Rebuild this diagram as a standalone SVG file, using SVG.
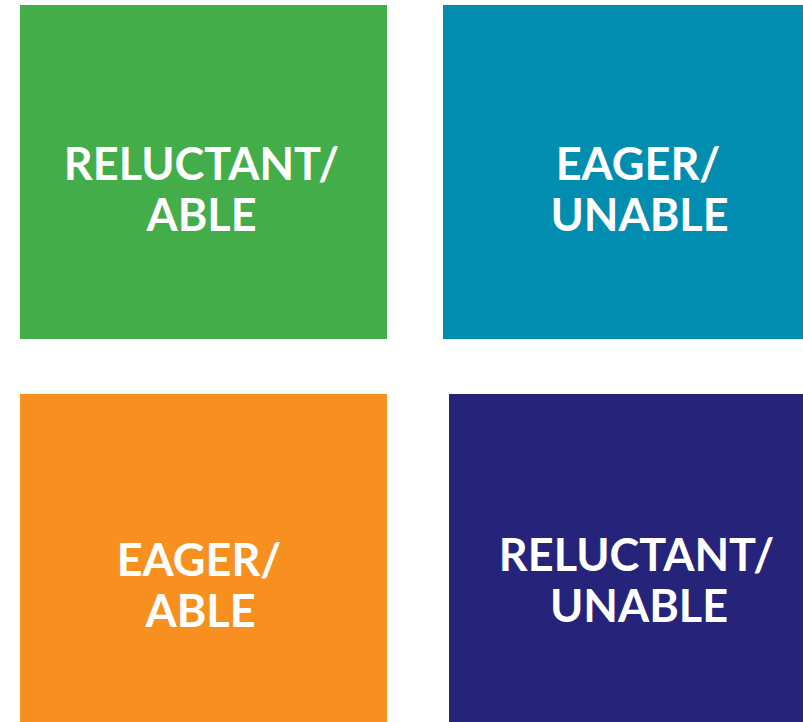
<svg xmlns="http://www.w3.org/2000/svg" width="803" height="722" viewBox="0 0 803 722">
  <style>
    .lbl { font-family: Lato, "Open Sans", "Liberation Sans", sans-serif; font-weight: 700; font-size: 45px; fill: #ffffff; text-anchor: middle; }
  </style>
  <rect width="803" height="722" fill="#ffffff"/>
  <g id="reluctant-able">
    <rect x="20" y="5" width="367" height="334" fill="#43ad4a"/>
    <text class="lbl" x="201.5" y="180">RELUCTANT/</text>
    <text class="lbl" x="201.5" y="231">ABLE</text>
  </g>
  <g id="eager-unable">
    <rect x="443" y="5" width="360" height="334" fill="#018db0"/>
    <text class="lbl" x="638" y="180">EAGER/</text>
    <text class="lbl" x="639.5" y="231">UNABLE</text>
  </g>
  <g id="eager-able">
    <rect x="20" y="394" width="367" height="328" fill="#f7901f"/>
    <text class="lbl" x="199" y="576">EAGER/</text>
    <text class="lbl" x="200.5" y="627">ABLE</text>
  </g>
  <g id="reluctant-unable">
    <rect x="449" y="394" width="354" height="328" fill="#26247a"/>
    <text class="lbl" x="636.5" y="571">RELUCTANT/</text>
    <text class="lbl" x="639" y="622">UNABLE</text>
  </g>
  <g id="connectors"/>
</svg>
